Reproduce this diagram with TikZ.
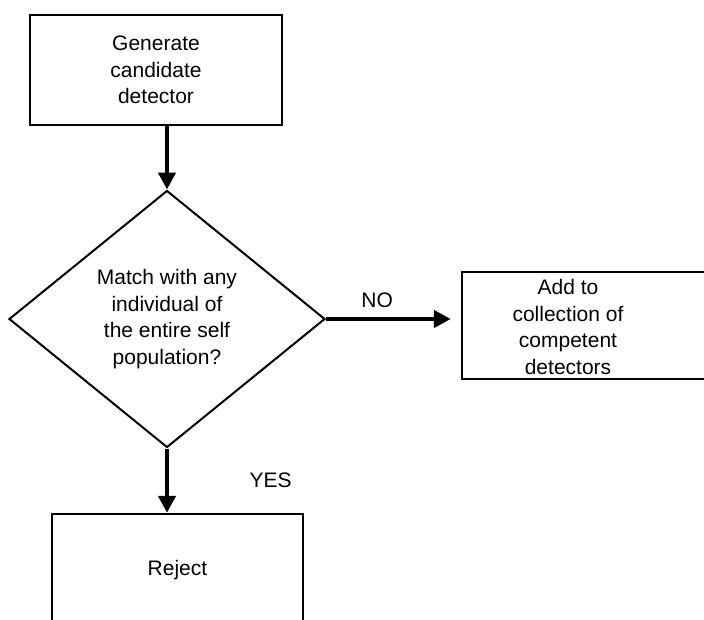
\documentclass[tikz,border=0pt]{standalone}
\usepackage{fontspec}
\setmainfont{Liberation Sans}
\usetikzlibrary{shapes.geometric,arrows.meta}

\begin{document}
\begin{tikzpicture}[x=1pt,y=-1pt]
	\tikzstyle{process}=[rectangle,draw=black,line width=2.4pt,align=center,inner sep=0pt]
	\tikzstyle{decision}=[diamond,draw=black,line width=2pt,align=center,inner sep=0pt,minimum width=316pt,minimum height=257pt]
	\tikzstyle{edge}=[draw, line width=4.5pt, -{Triangle[width=17pt,length=17pt]}]
	\clip (0,0) rectangle (704,619);
	\begin{scope}[every node/.style={font=\fontsize{21}{26.5}\selectfont}]
		\node [process, minimum width=252pt, minimum height=110pt] (gen) at (156,70) {Generate\\candidate\\detector};
		\node [decision] (test) at (167,319) {Match with any\\individual of\\the entire self\\population?};
		\node [process, minimum width=260pt, minimum height=107pt] (store) at (592,325.5) {};
		\node [align=center] (storetext) at (568,327) {Add to\\collection of\\competent\\detectors};
		\node [process, minimum width=251pt, minimum height=112pt] (reject) at (177.5,570) {Reject};
		\path[edge] (gen.south -| test.north) -- (test.north);
		\path[edge, shorten >=10pt] (test.east) -- node[pos=0.38, above=6pt] (no) {NO} (test.east -| store.west);
		\path[edge] (test.south) -- node[right=77pt] (yes) {YES} (test.south |- reject.north);
	\end{scope}
\end{tikzpicture}
\end{document}
